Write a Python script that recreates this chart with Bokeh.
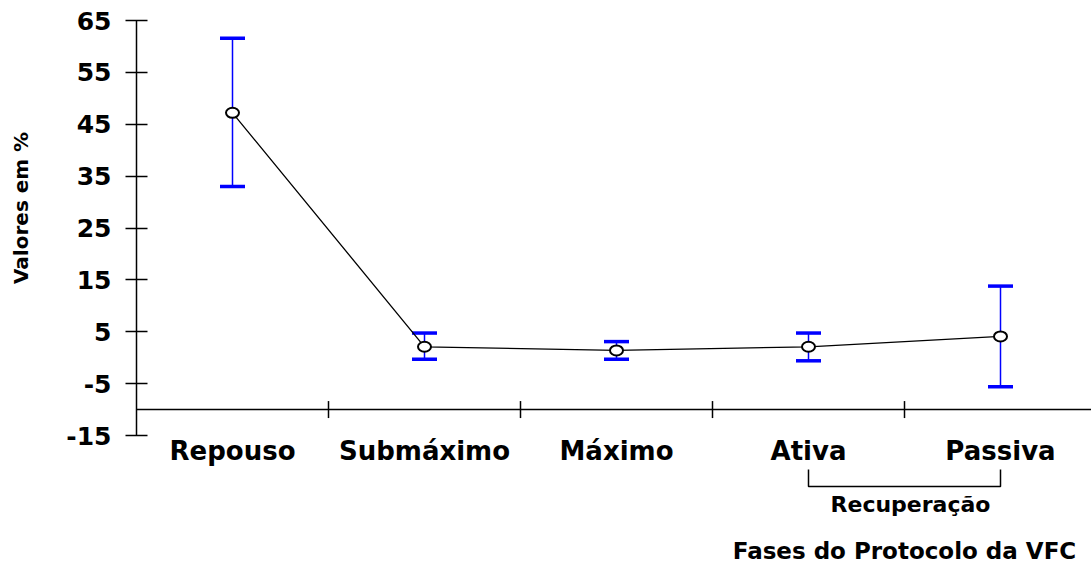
import math
from bokeh.plotting import figure
from bokeh.models import LinearAxis, FixedTicker, Span, Range1d
from bokeh.core.properties import value
from bokeh.embed import file_html
from bokeh.resources import INLINE

# ---- data ----
categories = ["Repouso", "Submáximo", "Máximo", "Ativa", "Passiva"]
means = [47.2, 2.1, 1.4, 2.1, 4.1]
upper = [61.6, 4.75, 3.1, 4.75, 13.8]
lower = [33.0, -0.3, -0.3, -0.6, -5.6]
y_ticks = [-15, -5, 5, 15, 25, 35, 45, 55, 65]
y_title = "Valores em %"
x_title = "Fases do Protocolo da VFC"
group_label = "Recuperação"
group_members = ["Ativa", "Passiva"]

# ---- layout ----
W, H = 1091, 562
LEFT, TOP = 136, 20
PX_PER_CAT = 192.0
PX_PER_UNIT = 5.1875
Y_TOP = 65
BASE_Y = -10
x0 = -0.5
x1 = x0 + (W - LEFT) / PX_PER_CAT
y0 = Y_TOP - (H - TOP) / PX_PER_UNIT


def ypx(page_y):
    return Y_TOP - (page_y - TOP) / PX_PER_UNIT


FONT = "DejaVu Sans"

p = figure(width=W, height=H, x_range=Range1d(x0, x1), y_range=Range1d(y0, Y_TOP),
           x_axis_location=None, y_axis_location=None,
           toolbar_location=None, output_backend="svg",
           min_border_left=LEFT, min_border_top=TOP, min_border_right=0, min_border_bottom=0)
p.outline_line_color = None
p.grid.visible = False

# axis title is centred on the frame; leading no-break spaces lift it to
# the reference's position beside the bounded axis
yaxis = LinearAxis(bounds=(y_ticks[0], y_ticks[-1]),
                   ticker=FixedTicker(ticks=y_ticks, minor_ticks=[]),
                   major_tick_in=11, major_tick_out=11,
                   minor_tick_in=0, minor_tick_out=0,
                   axis_line_width=1.5, major_tick_line_width=1.5,
                   axis_line_color="black", major_tick_line_color="black",
                   major_label_text_font=FONT, major_label_text_font_style="bold",
                   major_label_text_font_size="25px", major_label_standoff=14,
                   major_label_text_color="black",
                   major_label_overrides={t: str(t) for t in y_ticks},
                   axis_label="\u00a0" * 24 + y_title,
                   axis_label_text_font=FONT, axis_label_text_font_style="bold",
                   axis_label_text_font_size="20px", axis_label_text_color="black",
                   axis_label_standoff=30)
p.add_layout(yaxis, "left")

# x baseline and category separators
p.add_layout(Span(location=BASE_Y, dimension="width", line_color="black", line_width=1.5))
xs = list(range(len(categories)))
seps = [i + 0.5 for i in xs[:-1]]
p.scatter(x=seps, y=[BASE_Y] * len(seps), marker="dash", angle=math.pi / 2, size=17,
          line_color="black", line_width=1.5)

# error bars
p.segment(x0=xs, y0=lower, x1=xs, y1=upper, line_color="blue", line_width=1.5)
p.scatter(x=xs + xs, y=upper + lower, marker="dash", size=25, line_color="blue", line_width=3.5)

# mean line and markers
p.line(xs, means, line_color="black", line_width=1.3)
p.ellipse(x=xs, y=means, width=13, height=10, width_units="screen", height_units="screen",
          fill_color="white", line_color="black", line_width=2)

# category labels
p.text(x=xs, y=[ypx(450)] * len(xs), text=categories, text_font=value(FONT),
       text_font_style="bold", text_font_size="26px", text_align="center",
       text_baseline="alphabetic", text_color="black")

# group bracket
ia = categories.index(group_members[0])
ib = categories.index(group_members[1])
p.line(x=[ia, ia, ib, ib], y=[ypx(469), ypx(486), ypx(486), ypx(469)],
       line_color="black", line_width=1.5)
p.text(x=[(ia + ib) / 2 + 6 / PX_PER_CAT], y=[ypx(504)], text=[group_label],
       text_font=value(FONT), text_font_style="bold", text_font_size="22px",
       text_align="center", text_baseline="alphabetic", text_color="black")

# x title
p.text(x=[(ia + ib) / 2], y=[ypx(550)], text=[x_title],
       text_font=value(FONT), text_font_style="bold", text_font_size="23px",
       text_align="center", text_baseline="alphabetic", text_color="black")

open("out.html", "w").write(file_html(p, INLINE))
